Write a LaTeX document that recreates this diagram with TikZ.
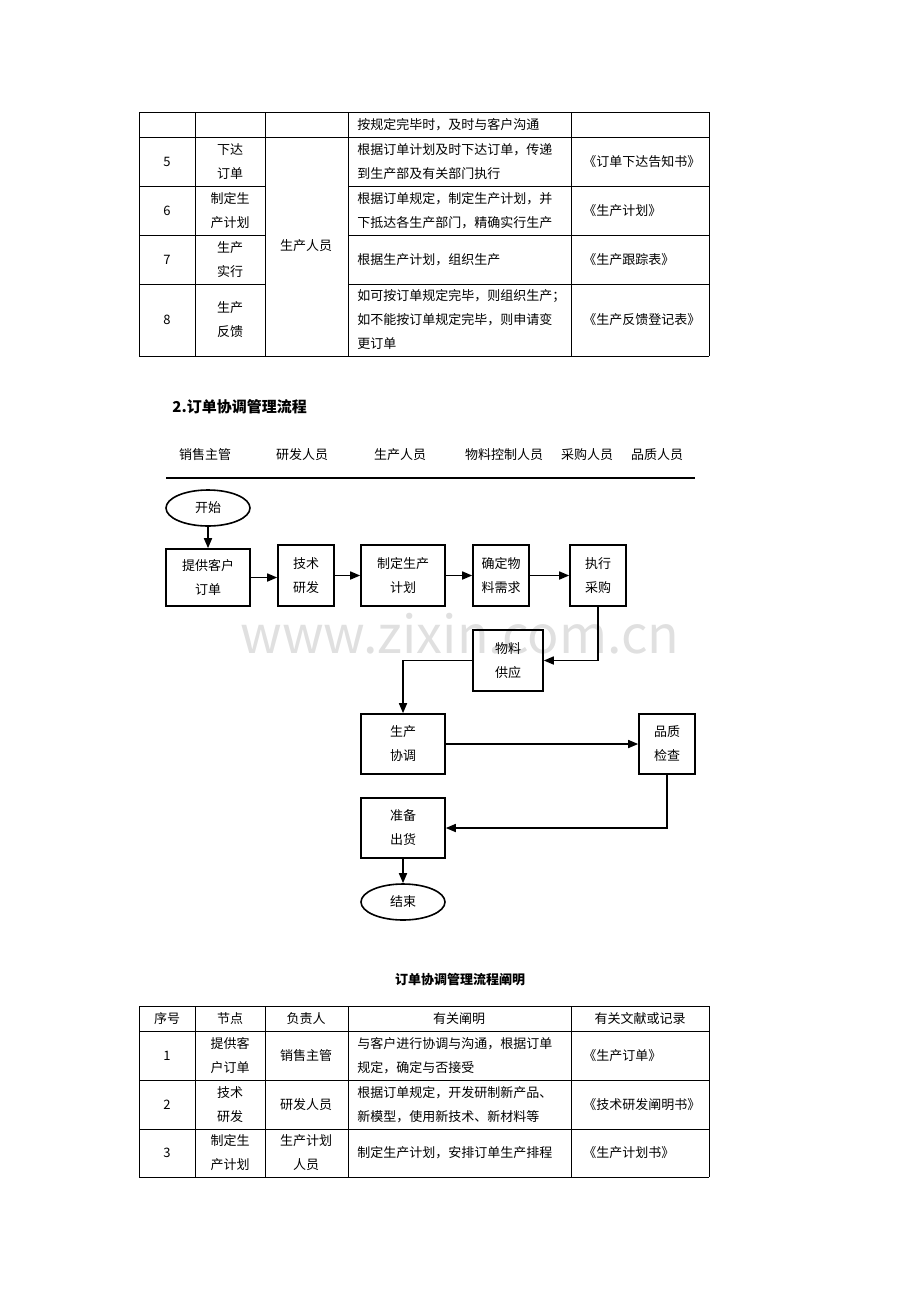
\documentclass[tikz,border=0pt]{standalone}
\usepackage{fontspec}
\setmainfont{Noto Sans CJK SC}
\usetikzlibrary{arrows.meta,shapes.geometric}

\tikzset{
  cell/.style={font=\fontsize{6.5}{12}\selectfont, align=center, inner sep=0pt},
  lcell/.style={font=\fontsize{6.5}{12}\selectfont, align=left, anchor=west, inner sep=0pt},
  box/.style={draw, thick, font=\fontsize{6.5}{12}\selectfont, align=center, inner sep=0pt},
  term/.style={draw, thick, ellipse, minimum width=42pt, minimum height=18pt,
    font=\fontsize{6.5}{12}\selectfont, inner sep=0pt},
  flow/.style={thick, -{Triangle[length=5pt,width=4pt]}},
  grid/.style={line width=0.4pt}
}

\begin{document}
\begin{tikzpicture}[x=0.5pt, y=-0.5pt]
    \path [use as bounding box] (0,0) rectangle (920,1302);

    % watermark
    \node[text=black!12, font=\fontsize{26}{26}\selectfont] (mark) at (460,634) {www.zixin.com.cn};

    % upper table
    \foreach \y in {112,137,356}
      \draw[grid] (139,\y) -- (709,\y);
    \foreach \y in {186,235,284} {
      \draw[grid] (139,\y) -- (265,\y);
      \draw[grid] (348,\y) -- (709,\y);
    }
    \foreach \x in {139,195,265,348,571,709}
      \draw[grid] (\x,112) -- (\x,356);
    \node[lcell] (r0) at (357,124.5) {按规定完毕时，及时与客户沟通};
    \node[cell] (n5) at (167,161.5) {5};
    \node[cell] (p5) at (230,161.5) {下达\\订单};
    \node[lcell] (d5) at (357,161.5) {根据订单计划及时下达订单，传递\\到生产部及有关部门执行};
    \node[lcell] (f5) at (583,161.5) {《订单下达告知书》};
    \node[cell] (n6) at (167,210.5) {6};
    \node[cell] (p6) at (230,210.5) {制定生\\产计划};
    \node[lcell] (d6) at (357,210.5) {根据订单规定，制定生产计划，并\\下抵达各生产部门，精确实行生产};
    \node[lcell] (f6) at (583,210.5) {《生产计划》};
    \node[cell] (n7) at (167,259.5) {7};
    \node[cell] (p7) at (230,259.5) {生产\\实行};
    \node[lcell] (d7) at (357,259.5) {根据生产计划，组织生产};
    \node[lcell] (f7) at (583,259.5) {《生产跟踪表》};
    \node[cell] (n8) at (167,320) {8};
    \node[cell] (p8) at (230,320) {生产\\反馈};
    \node[lcell] (d8) at (357,320) {如可按订单规定完毕，则组织生产；\\如不能按订单规定完毕，则申请变\\更订单};
    \node[lcell] (f8) at (583,320) {《生产反馈登记表》};
    \node[cell] (who) at (306,246) {生产人员};

    % section title and lanes
    \node[lcell, font=\fontsize{7.5}{12}\selectfont\bfseries] (title) at (172,407) {2.订单协调管理流程};
    \node[cell] (l1) at (205,455) {销售主管};
    \node[cell] (l2) at (302,455) {研发人员};
    \node[cell] (l3) at (400,455) {生产人员};
    \node[cell] (l4) at (504,455) {物料控制人员};
    \node[cell] (l5) at (587,455) {采购人员};
    \node[cell] (l6) at (657,455) {品质人员};
    \draw[thick] (166,478) -- (695,478);

    % flow chart
    \node[term] (start) at (208,508) {开始};
    \node[box, minimum width=42pt, minimum height=28.5pt] (tigong) at (208,577.5) {提供客户\\订单};
    \node[box, minimum width=28pt, minimum height=30.5pt] (jishu) at (306,575.5) {技术\\研发};
    \node[box, minimum width=42pt, minimum height=30.5pt] (jihua) at (403,575.5) {制定生产\\计划};
    \node[box, minimum width=28pt, minimum height=30.5pt] (xuqiu) at (501,575.5) {确定物\\料需求};
    \node[box, minimum width=28pt, minimum height=30.5pt] (caigou) at (598,575.5) {执行\\采购};
    \node[box, minimum width=35pt, minimum height=30.5pt] (wuliao) at (508,660.5) {物料\\供应};
    \node[box, minimum width=42pt, minimum height=30pt] (xietiao) at (403,744) {生产\\协调};
    \node[box, minimum width=28pt, minimum height=30pt] (pinzhi) at (667,744) {品质\\检查};
    \node[box, minimum width=42pt, minimum height=30pt] (chuhuo) at (403,828) {准备\\出货};
    \node[term] (finish) at (403,902) {结束};

    \draw[flow] (start) -- (tigong);
    \draw[flow] (tigong.east) -- (jishu.west |- tigong.east);
    \draw[flow] (jishu) -- (jihua);
    \draw[flow] (jihua) -- (xuqiu);
    \draw[flow] (xuqiu) -- (caigou);
    \draw[flow] (caigou.south) |- (wuliao.east);
    \draw[flow] (wuliao.west) -| (xietiao.north);
    \draw[flow] (xietiao) -- (pinzhi);
    \draw[flow] (pinzhi.south) |- (chuhuo.east);
    \draw[flow] (chuhuo) -- (finish);

    % lower table
    \node[cell, font=\fontsize{6.5}{12}\selectfont\bfseries] (caption) at (460,980) {订单协调管理流程阐明};
    \foreach \y in {1006,1031,1080,1129,1177}
      \draw[grid] (139,\y) -- (709,\y);
    \foreach \x in {139,195,265,348,571,709}
      \draw[grid] (\x,1006) -- (\x,1177);
    \node[cell] (h1) at (167,1018.5) {序号};
    \node[cell] (h2) at (230,1018.5) {节点};
    \node[cell] (h3) at (306,1018.5) {负责人};
    \node[cell] (h4) at (459,1018.5) {有关阐明};
    \node[cell] (h5) at (640,1018.5) {有关文献或记录};
    \node[cell] (m1) at (167,1055.5) {1};
    \node[cell] (q1) at (230,1055.5) {提供客\\户订单};
    \node[cell] (w1) at (306,1055.5) {销售主管};
    \node[lcell] (e1) at (357,1055.5) {与客户进行协调与沟通，根据订单\\规定，确定与否接受};
    \node[lcell] (g1) at (583,1055.5) {《生产订单》};
    \node[cell] (m2) at (167,1104.5) {2};
    \node[cell] (q2) at (230,1104.5) {技术\\研发};
    \node[cell] (w2) at (306,1104.5) {研发人员};
    \node[lcell] (e2) at (357,1104.5) {根据订单规定，开发研制新产品、\\新模型，使用新技术、新材料等};
    \node[lcell] (g2) at (583,1104.5) {《技术研发阐明书》};
    \node[cell] (m3) at (167,1153) {3};
    \node[cell] (q3) at (230,1153) {制定生\\产计划};
    \node[cell] (w3) at (306,1153) {生产计划\\人员};
    \node[lcell] (e3) at (357,1153) {制定生产计划，安排订单生产排程};
    \node[lcell] (g3) at (583,1153) {《生产计划书》};
\end{tikzpicture}
\end{document}
